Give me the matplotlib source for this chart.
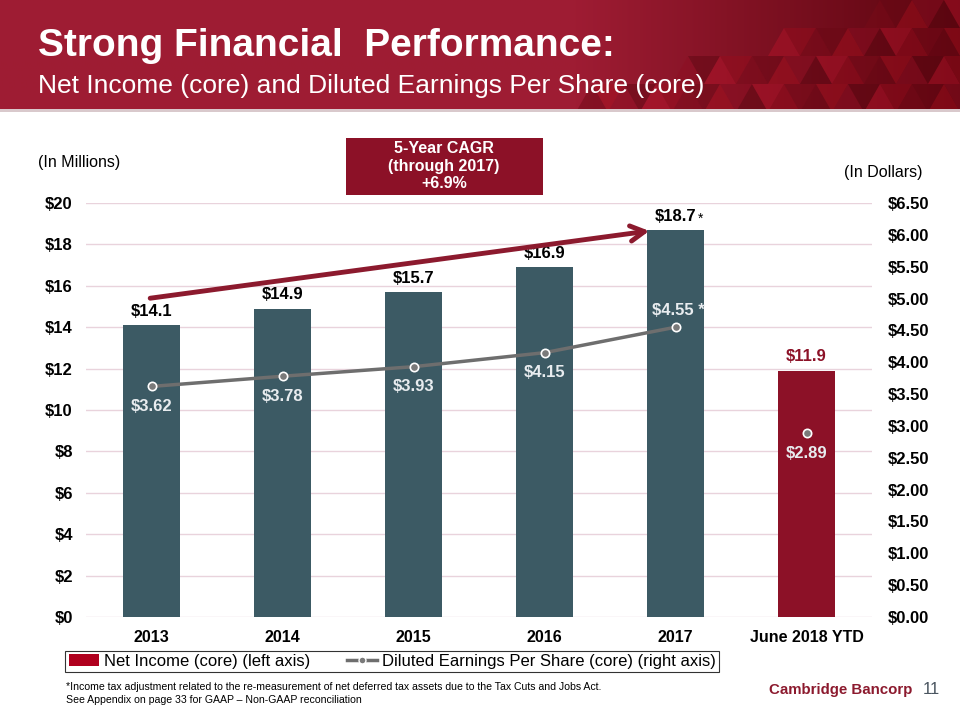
import numpy as np
import matplotlib.pyplot as plt
from matplotlib.patches import Rectangle, Polygon
from matplotlib.lines import Line2D

plt.rcParams['font.family'] = ['Liberation Sans', 'DejaVu Sans']

####################################################################################################
# data

categories = ['2013', '2014', '2015', '2016', '2017', 'June 2018 YTD']
net_income = [14.1, 14.9, 15.7, 16.9, 18.7, 11.9]
income_labels = ['$14.1', '$14.9', '$15.7', '$16.9', '$18.7', '$11.9']
eps = [3.62, 3.78, 3.93, 4.15, 4.55, 2.89]
eps_labels = ['$3.62', '$3.78', '$3.93', '$4.15', '$4.55 *', '$2.89']

left_ticks = [0, 2, 4, 6, 8, 10, 12, 14, 16, 18, 20]
right_ticks = [0, 0.5, 1, 1.5, 2, 2.5, 3, 3.5, 4, 4.5, 5, 5.5, 6, 6.5]

teal = '#3C5A64'
red = '#8C1127'
grid_color = '#E9D3DC'

W, H = 960, 720
def fx(px):
    return px / W
def fy(py):
    return 1 - py / H

####################################################################################################

fig = plt.figure(figsize=(9.6, 7.2), dpi=100)
fig.patch.set_facecolor('white')

# header band
bg = fig.add_axes([0, fy(112), 1, 112 / H])
bg.set_xlim(0, W)
bg.set_ylim(112, 0)
bg.axis('off')
grad = np.linspace(0, 1, 400)
shade = np.clip((grad - 0.6) / 0.4, 0, 1)
base = np.array([0.62, 0.11, 0.20])
dark = np.array([0.36, 0.02, 0.06])
rgb = base[None, :] * (1 - shade[:, None]) + dark[None, :] * shade[:, None]
bg.imshow(rgb[None, :, :], extent=[0, W, 112, 0], aspect='auto', zorder=0)
tri_colors = ['#A8101E', '#7A0A18', '#B8142A', '#8E0E22', '#6A0814', '#9A0C1C', '#5A0610']
th, tw = 28, 32
for row in range(4):
    y0 = row * th
    for col in range(0, 62):
        x0 = col * tw / 2
        if x0 < 860 - row * 95:
            continue
        c = tri_colors[(row * 5 + col * 3) % len(tri_colors)]
        if col % 2 == 0:
            pts = [[x0, y0 + th], [x0 + tw / 2, y0], [x0 + tw, y0 + th]]
        else:
            pts = [[x0, y0], [x0 + tw, y0], [x0 + tw / 2, y0 + th]]
        bg.add_patch(Polygon(pts, closed=True, fc=c, ec='none', alpha=0.45, zorder=1))
bg.add_patch(Rectangle((0, 109), W, 3, fc='#D9C9CC', ec='none', zorder=2))

fig.text(fx(38), fy(46), 'Strong Financial  Performance:', color='white', fontsize=28,
         fontweight='bold', va='center', ha='left')
fig.text(fx(38), fy(86), 'Net Income (core) and Diluted Earnings Per Share (core)', color='white',
         fontsize=19, va='center', ha='left')

####################################################################################################
# chart

ax = fig.add_axes([fx(86), fy(617), (872 - 86) / W, (617 - 203) / H])
x = np.arange(len(categories))
colors = [teal] * 5 + [red]
ax.bar(x, net_income, width=0.43, color=colors, zorder=2)
ax.set_xlim(-0.5, len(categories) - 0.5)
ax.set_ylim(0, 20)
ax.set_yticks(left_ticks)
ax.set_yticklabels(['$%d' % t for t in left_ticks], fontsize=12, fontweight='bold')
ax.set_xticks(x)
ax.set_xticklabels(categories, fontsize=11.5, fontweight='bold')
ax.tick_params(length=0)
ax.tick_params(axis='y', pad=9.5)
ax.tick_params(axis='x', pad=9)
ax.grid(axis='y', color=grid_color, lw=1, zorder=0)
for s in ax.spines.values():
    s.set_visible(False)

for i, (v, lab) in enumerate(zip(net_income, income_labels)):
    col = red if i == 5 else 'black'
    t = ax.text(i, v + 0.3, lab, ha='center', va='bottom', fontsize=12,
                fontweight='bold', color=col)
    if i == 4:
        ax.annotate('*', xy=(1, 1), xycoords=t, xytext=(1, -2), textcoords='offset points',
                    ha='left', va='top', fontsize=10, color=col)

ax2 = ax.twinx()
ax2.set_ylim(0, 6.5)
ax2.set_yticks(right_ticks)
ax2.set_yticklabels(['$%.2f' % t for t in right_ticks], fontsize=12, fontweight='bold')
ax2.tick_params(length=0, pad=11)
for s in ax2.spines.values():
    s.set_visible(False)
ax2.plot(x[:5], eps[:5], color='#6E6E6E', lw=2.5, marker='o', ms=6,
         mfc='#7A7A7A', mec='white', mew=1.2, zorder=3)
ax2.plot(x[5:], eps[5:], lw=0, marker='o', ms=6, mfc='#7A7A7A', mec='white', mew=1.2, zorder=3)
for i, (v, lab) in enumerate(zip(eps, eps_labels)):
    if i == 4:
        ax2.text(i + 0.02, v + 0.15, lab, ha='center', va='bottom', fontsize=12,
                 fontweight='bold', color='#E8ECEF')
    else:
        ax2.text(i, v - 0.2, lab, ha='center', va='top', fontsize=12,
                 fontweight='bold', color='#E8ECEF')

# CAGR arrow
ax.annotate('', xy=(3.8, 18.65), xytext=(-0.01, 15.4),
            arrowprops=dict(arrowstyle='->,head_length=1.0,head_width=0.55', color='#8C1A2E',
                            lw=3.5, shrinkA=0, shrinkB=0))

####################################################################################################
# annotations

fig.text(fx(38), fy(163), '(In Millions)', fontsize=11.5, va='center', ha='left')
fig.text(fx(922), fy(172), '(In Dollars)', fontsize=11.5, va='center', ha='right')

fig.patches.append(Rectangle((fx(346), fy(195)), (543 - 346) / W, (195 - 138) / H,
                             transform=fig.transFigure, fc=red, ec='none'))
fig.text(fx(444), fy(166), '5-Year CAGR\n(through 2017)\n+6.9%', color='white', fontsize=11.5,
         fontweight='bold', ha='center', va='center', linespacing=1.2)

handles = [Rectangle((0, 0), 1, 1, fc='#B0001E', ec='none'),
           Line2D([0], [0], color='#6E6E6E', lw=2.5, marker='o', ms=5,
                  mfc='#7A7A7A', mec='white', mew=1)]
leg = fig.legend(handles, ['Net Income (core) (left axis)',
                           'Diluted Earnings Per Share (core) (right axis)'],
                 loc='center', bbox_to_anchor=(fx(392), fy(661.5)), ncol=2, fontsize=12,
                 frameon=True, fancybox=False, edgecolor='black', handlelength=1.8,
                 handletextpad=0.3, columnspacing=2.2, borderpad=0.2, borderaxespad=0)
leg.get_frame().set_linewidth(0.8)

fig.text(fx(66), fy(687), '*Income tax adjustment related to the re-measurement of net deferred tax '
         'assets due to the Tax Cuts and Jobs Act.', fontsize=7.6, va='center', ha='left')
fig.text(fx(66), fy(700), 'See Appendix on page 33 for GAAP \u2013 Non-GAAP reconciliation',
         fontsize=7.6, va='center', ha='left')

fig.text(fx(912), fy(690), 'Cambridge Bancorp', color='#8C1A2E', fontsize=10.8,
         fontweight='bold', va='center', ha='right')
fig.text(fx(940), fy(690), '11', color='#4A5560', fontsize=12, va='center', ha='right')

fig.savefig('out.png', dpi=100)
